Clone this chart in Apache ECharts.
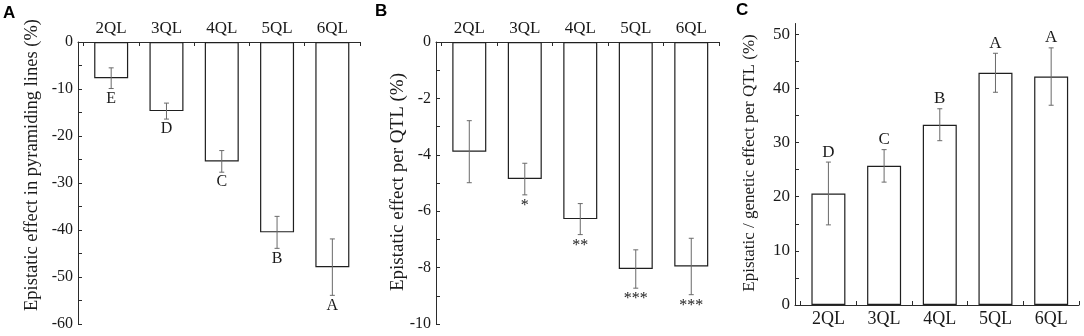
<!DOCTYPE html>
<html>
<head>
<meta charset="utf-8">
<script src="https://cdn.jsdelivr.net/npm/echarts@6/dist/echarts.min.js"></script>
<style>
html,body{margin:0;padding:0;background:#fff;}
#chart{width:1084px;height:336px;}
</style>
</head>
<body>
<div id="chart"></div>
<script>
// ---- data ----
const categories = ['2QL', '3QL', '4QL', '5QL', '6QL'];
const catPositions = [1, 2, 3, 4, 5];
const catTickPositions = [0.5, 1, 1.5, 2, 2.5, 3, 3.5, 4, 4.5, 5, 5.5];

const aValues = [-7.7, -14.7, -25.4, -40.5, -47.9];
const aErrors = [2.2, 1.7, 2.3, 3.4, 6.0];
const aLetters = ['E', 'D', 'C', 'B', 'A'];
const aTickLabels = [0, -10, -20, -30, -40, -50, -60];
const aTicks = [0, -5, -10, -15, -20, -25, -30, -35, -40, -45, -50, -55, -60];

const bValues = [-3.89, -4.86, -6.28, -8.05, -7.96];
const bErrors = [1.1, 0.56, 0.55, 0.68, 1.0];
const bMarks = ['', '*', '**', '***', '***'];
const bTickLabels = [0, -2, -4, -6, -8, -10];
const bTicks = [0, -1, -2, -3, -4, -5, -6, -7, -8, -9, -10];

const cValues = [20.6, 25.7, 33.3, 42.9, 42.2];
const cErrors = [5.8, 3.0, 2.95, 3.6, 5.3];
const cLetters = ['D', 'C', 'B', 'A', 'A'];
const cTickLabels = [0, 10, 20, 30, 40, 50];
const cTicks = [0, 5, 10, 15, 20, 25, 30, 35, 40, 45, 50];

const panelTitles = ['Epistatic effect in pyramiding lines (%)', 'Epistatic effect per QTL (%)', 'Epistatic / genetic effect per QTL (%)'];
const panelLetters = ['A', 'B', 'C'];

// ---- style ----
const SERIF = '"Liberation Serif", "Times New Roman", serif';
const AXIS_COLOR = '#2b2b2b';
const TEXT_COLOR = '#1a1a1a';
const ERR_COLOR = '#6a6a6a';

const chart = echarts.init(document.getElementById('chart'), null, {renderer: 'canvas'});

function xAxisDef(gridIndex, position, fontSize, margin) {
  return {
    gridIndex: gridIndex, type: 'value', min: 0.4, max: 5.5, position: position,
    axisLine: {show: true, onZero: false, lineStyle: {color: AXIS_COLOR, width: 1}},
    axisTick: {show: true, inside: true, length: 4, customValues: catTickPositions, lineStyle: {color: AXIS_COLOR}},
    axisLabel: {show: true, customValues: catPositions, margin: margin,
      fontFamily: SERIF, fontSize: fontSize, color: TEXT_COLOR,
      formatter: function (v) { const i = catPositions.indexOf(Math.round(v)); return i >= 0 ? categories[i] : ''; }},
    splitLine: {show: false}
  };
}
function yAxisDef(gridIndex, min, max, labels, ticks, fontSize) {
  return {
    gridIndex: gridIndex, type: 'value', min: min, max: max,
    axisLine: {show: true, onZero: false, lineStyle: {color: AXIS_COLOR, width: 1}},
    axisTick: {show: true, inside: true, length: 4, customValues: ticks, lineStyle: {color: AXIS_COLOR}},
    axisLabel: {show: true, customValues: labels, margin: 5, fontFamily: SERIF, fontSize: fontSize, color: TEXT_COLOR,
      formatter: function (v) { return String(v); }},
    splitLine: {show: false}
  };
}
function barSeries(idx, values) {
  return {
    type: 'bar', xAxisIndex: idx, yAxisIndex: idx, barWidth: 34, z: 2,
    data: values.map(function (v, i) { return [catPositions[i], v]; }),
    itemStyle: {color: '#ffffff', borderColor: '#1f1f1f', borderWidth: 1.2},
    silent: true, animation: false
  };
}
function errSeries(idx, values, errors, labels, labelBelow, labelFont, labelGap) {
  return {
    type: 'custom', xAxisIndex: idx, yAxisIndex: idx, clip: false, silent: true, animation: false, z: 5,
    data: values.map(function (v, i) { return [catPositions[i], v, errors[i]]; }),
    renderItem: function (params, api) {
      const x = api.value(0), v = api.value(1), e = api.value(2);
      const top = api.coord([x, v + e]);
      const bot = api.coord([x, v - e]);
      const cw = 2.5;
      const children = [
        {type: 'line', shape: {x1: top[0], y1: top[1], x2: bot[0], y2: bot[1]}, style: {stroke: ERR_COLOR, lineWidth: 1}},
        {type: 'line', shape: {x1: top[0] - cw, y1: top[1], x2: top[0] + cw, y2: top[1]}, style: {stroke: ERR_COLOR, lineWidth: 1}},
        {type: 'line', shape: {x1: bot[0] - cw, y1: bot[1], x2: bot[0] + cw, y2: bot[1]}, style: {stroke: ERR_COLOR, lineWidth: 1}}
      ];
      const lab = labels[params.dataIndex];
      if (lab) {
        children.push({
          type: 'text',
          x: bot[0],
          y: labelBelow ? bot[1] + labelGap : top[1] - labelGap,
          style: {text: lab, fill: TEXT_COLOR, font: labelFont, textAlign: 'center', textVerticalAlign: 'middle'}
        });
      }
      return {type: 'group', children: children};
    }
  };
}

const option = {
  animation: false,
  backgroundColor: '#ffffff',
  grid: [
    {left: 78, top: 42, width: 282, height: 282},
    {left: 436, top: 42, width: 283, height: 282},
    {left: 795, top: 23.5, width: 284, height: 281.5}
  ],
  xAxis: [
    xAxisDef(0, 'top', 17, 5),
    xAxisDef(1, 'top', 17, 5),
    xAxisDef(2, 'bottom', 18, 5)
  ],
  yAxis: [
    yAxisDef(0, -60, 0, aTickLabels, aTicks, 16),
    yAxisDef(1, -10, 0, bTickLabels, bTicks, 16),
    yAxisDef(2, 0, 52, cTickLabels, cTicks, 17)
  ],
  series: [
    barSeries(0, aValues),
    errSeries(0, aValues, aErrors, aLetters, true, '16px ' + SERIF, 10),
    barSeries(1, bValues),
    errSeries(1, bValues, bErrors, bMarks, true, '16px ' + SERIF, 11),
    barSeries(2, cValues),
    errSeries(2, cValues, cErrors, cLetters, false, '17px ' + SERIF, 10)
  ],
  graphic: [
    {type: 'text', x: 3, y: 5, style: {text: panelLetters[0], font: 'bold 17px "Liberation Sans", Arial, sans-serif', fill: '#000'}},
    {type: 'text', x: 375, y: 3, style: {text: panelLetters[1], font: 'bold 17px "Liberation Sans", Arial, sans-serif', fill: '#000'}},
    {type: 'text', x: 736, y: 2, style: {text: panelLetters[2], font: 'bold 17px "Liberation Sans", Arial, sans-serif', fill: '#000'}},
    {type: 'text', x: 32, y: 165, rotation: Math.PI / 2,
      style: {text: panelTitles[0], font: '18.5px ' + SERIF, fill: TEXT_COLOR, textAlign: 'center', textVerticalAlign: 'middle'}},
    {type: 'text', x: 398, y: 182, rotation: Math.PI / 2,
      style: {text: panelTitles[1], font: '19px ' + SERIF, fill: TEXT_COLOR, textAlign: 'center', textVerticalAlign: 'middle'}},
    {type: 'text', x: 750, y: 163, rotation: Math.PI / 2,
      style: {text: panelTitles[2], font: '17px ' + SERIF, fill: TEXT_COLOR, textAlign: 'center', textVerticalAlign: 'middle'}}
  ]
};
chart.setOption(option);
</script>
</body>
</html>
